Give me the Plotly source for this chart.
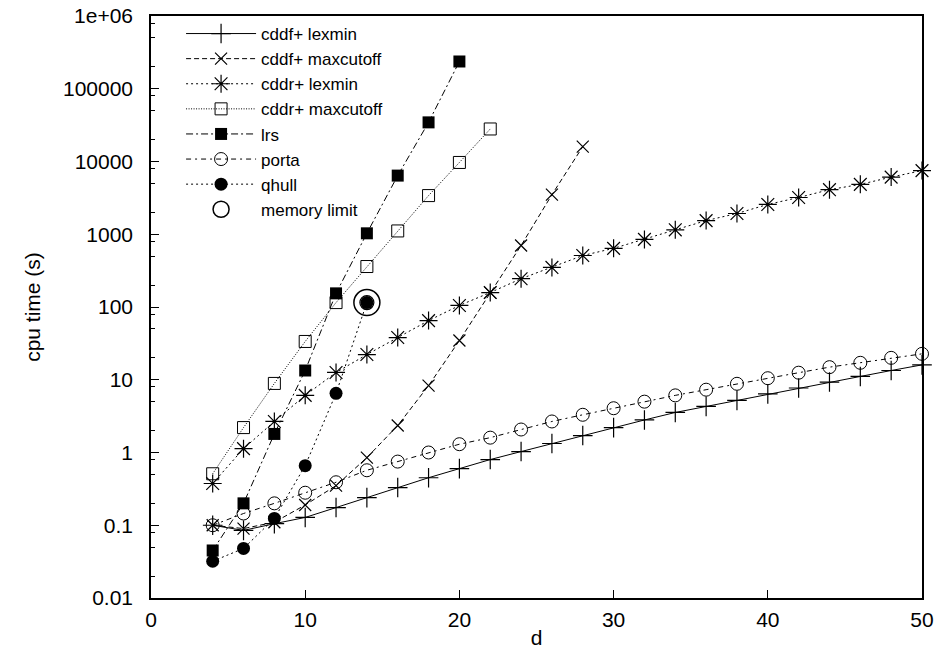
import plotly.graph_objects as go

# ---------------- data ----------------
d_all = list(range(4, 51, 2))
cddf_lexmin = [0.1, 0.085, 0.105, 0.128, 0.175, 0.24, 0.33, 0.45, 0.6, 0.8, 1.03, 1.33,
               1.71, 2.2, 2.8, 3.55, 4.3, 5.2, 6.4, 7.7, 9.3, 11.1, 13.4, 16]
d_cddf_max = list(range(4, 29, 2))
cddf_maxcutoff = [0.1, 0.09, 0.11, 0.19, 0.35, 0.85, 2.35, 8.3, 34.6, 158, 700, 3500, 16000]
cddr_lexmin = [0.375, 1.13, 2.67, 6.1, 12.6, 22.2, 38, 65, 105, 158, 245, 350, 510, 640,
               850, 1150, 1540, 1930, 2570, 3200, 4100, 4850, 6100, 7500]
d_cddr_max = list(range(4, 23, 2))
cddr_maxcutoff = [0.51, 2.2, 8.9, 33.6, 115, 360, 1110, 3400, 9700, 28000]
d_lrs = list(range(4, 21, 2))
lrs = [0.045, 0.2, 1.8, 13.4, 154, 1030, 6400, 34500, 237000]
porta = [0.1, 0.145, 0.2, 0.28, 0.39, 0.57, 0.75, 1.0, 1.3, 1.6, 2.07, 2.67, 3.3, 4.06,
         5.0, 6.1, 7.3, 8.8, 10.5, 12.5, 14.9, 17.1, 20, 22.7]
d_qhull = list(range(4, 15, 2))
qhull = [0.032, 0.048, 0.124, 0.66, 6.5, 115]
d_memory = [14]
memory_limit = [115]

y_tickvals = [0.01, 0.1, 1, 10, 100, 1000, 10000, 100000, 1000000]
y_ticktext = ["0.01", "0.1", "1", "10", "100", "1000", "10000", "100000", "1e+06"]
x_tickvals = [0, 10, 20, 30, 40, 50]

FONT = "Liberation Sans, Arial, Helvetica, sans-serif"
BLACK = "#000000"

fig = go.Figure()


def add(name, x, y, dash, symbol, size, lw=1.0, mlw=1.0, show=True, mode="lines+markers"):
    fig.add_trace(go.Scatter(
        x=x, y=y, name=name, mode=mode, showlegend=show,
        line=dict(color=BLACK, width=lw, dash=dash),
        marker=dict(symbol=symbol, size=size, color=BLACK,
                    line=dict(color=BLACK, width=mlw)),
        cliponaxis=False,
    ))


add("cddf+ lexmin", d_all, cddf_lexmin, "solid", "cross-thin-open", 14, mlw=1.2)
add("cddf+ maxcutoff", d_cddf_max, cddf_maxcutoff, "5px,3px", "x-thin-open", 12, mlw=1.2)
add("cddr+ lexmin", d_all, cddr_lexmin, "2px,3px", "asterisk-open", 15, mlw=1.2)
add("cddr+ maxcutoff", d_cddr_max, cddr_maxcutoff, "1px,1.5px", "square-open", 12, mlw=1)
add("lrs", d_lrs, lrs, "7px,3px,2px,3px", "square", 12, mlw=0)
add("porta", d_all, porta, "5px,4px,2px,4px", "circle-open", 13, mlw=1)
add("qhull", d_qhull, qhull, "2px,3px", "circle", 13, mlw=0)
add("memory limit", d_memory, memory_limit, "solid", "circle-open", 26, mlw=1.5, mode="markers")
add("memory limit inner", d_memory, memory_limit, "solid", "circle-open", 14, mlw=1.2,
    mode="markers", show=False)

fig.update_layout(
    width=938, height=658,
    margin=dict(l=151, r=16, t=16, b=60, autoexpand=False),
    paper_bgcolor="white", plot_bgcolor="white",
    font=dict(family=FONT, size=21, color=BLACK),
    showlegend=True,
    legend=dict(
        x=0.039, y=1.0, xanchor="left", yanchor="top",
        bgcolor="rgba(0,0,0,0)", borderwidth=0,
        font=dict(family=FONT, size=17, color=BLACK),
        tracegroupgap=0, itemwidth=70,
    ),
    xaxis=dict(
        range=[0, 50], tickvals=x_tickvals, automargin=False,
        showline=True, linecolor=BLACK, linewidth=1.5, mirror=True,
        ticks="inside", ticklen=8, tickcolor=BLACK, tickwidth=1,
        showgrid=False, zeroline=False,
        tickfont=dict(family=FONT, size=21),
        ticklabelstandoff=2,
        title=dict(text="d", font=dict(family=FONT, size=21), standoff=0),
    ),
    yaxis=dict(
        type="log", range=[-2, 6], automargin=False,
        tickvals=y_tickvals, ticktext=y_ticktext,
        showline=True, linecolor=BLACK, linewidth=1.5, mirror=True,
        ticks="inside", ticklen=8, tickcolor=BLACK, tickwidth=1,
        minor=dict(ticks="inside", ticklen=4, tickcolor=BLACK, tickwidth=1,
                   tickmode="array",
                   tickvals=[m * 10 ** e for e in range(-2, 6) for m in (2, 5, 8)]),
        showgrid=False, zeroline=False,
        tickfont=dict(family=FONT, size=21),
        ticklabelstandoff=12,
        title=dict(text="cpu time (s)", font=dict(family=FONT, size=21), standoff=17),
    ),
)

fig.write_html("out.html")
